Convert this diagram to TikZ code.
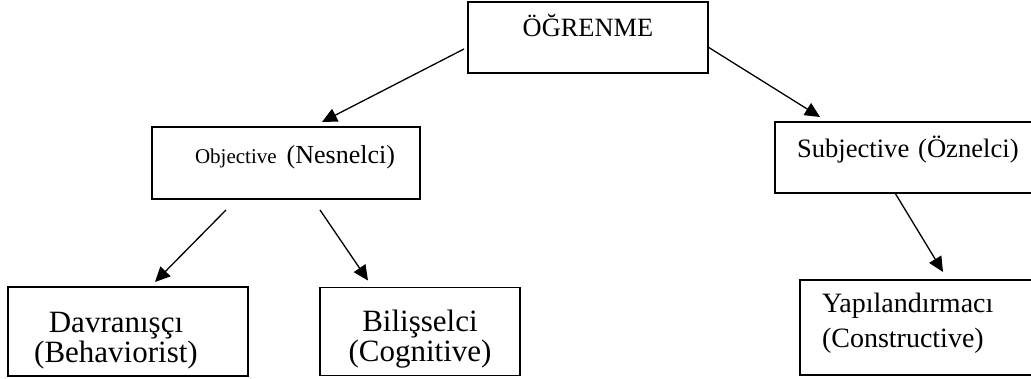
\documentclass[tikz,border=0pt]{standalone}
\usepackage{fontspec}
\setmainfont{Liberation Serif}
\usetikzlibrary{positioning, arrows.meta}

\begin{document}
\begin{tikzpicture}[x=0.5pt, y=-0.5pt, ->, >={Triangle[length=7.5pt,width=7pt]}, line width=0.65pt,
    box/.style={draw, rectangle, -, line width=0.9pt, inner sep=0pt, outer sep=0pt}]
      \useasboundingbox (0,0) rectangle (1031,379);

      % Top level
      \node[box, anchor=north west, minimum width=120pt, text height=17.5pt, text depth=18pt,
            font=\fontsize{13.2}{15}\selectfont] (ogrenme) at (468,2) {ÖĞRENME};

      % Second level
      \node[box, minimum width=134pt, text height=18pt, text depth=18pt,
            font=\fontsize{13}{15}\selectfont] (objective) [below left=27pt and 24pt of ogrenme]
            {\hspace*{9pt}{\fontsize{10.5}{12}\selectfont Objective}\hspace{5pt}(Nesnelci)};
      \node[box, inner xsep=11pt, text width=112pt, align=left, text height=18pt, text depth=17.5pt,
            font=\fontsize{13.3}{15}\selectfont] (subjective) [below right=24.5pt and 33.5pt of ogrenme]
            {Subjective (Öznelci)};

      % Third level
      \node[box, minimum width=120pt, align=center, text height=37.5pt, text depth=7pt,
            font=\fontsize{15.5}{15}\selectfont] (davranisci)
            [below=44pt of objective.south west, anchor=north west, xshift=-72pt]
            {Davranışçı\hspace*{12pt}\\(Behaviorist)\hspace*{12pt}};
      \node[box, minimum width=100pt, align=center, text height=37pt, text depth=7pt,
            font=\fontsize{15.5}{15}\selectfont] (bilisselci) [right=36pt of davranisci]
            {Bilişselci\\(Cognitive)};
      \node[box, inner xsep=11pt, text width=100pt, align=left, text height=16pt, text depth=31.5pt,
            font=\fontsize{14}{17.5}\selectfont] (yapilandirmaci)
            [below=43.5pt of subjective.south west, anchor=north west, xshift=12.5pt]
            {Yapılandırmacı\\(Constructive)};

      % Arrows
      \draw ([xshift=-2pt, yshift=-5.75pt]ogrenme.west) -- ([xshift=18pt, yshift=2.5pt]objective.north);
      \draw ([yshift=-4.75pt]ogrenme.east) -- ([xshift=22.5pt, yshift=2.5pt]subjective.north west);
      \draw ([xshift=-30pt, yshift=-5.5pt]objective.south) -- ([xshift=13.5pt, yshift=2.5pt]davranisci.north);
      \draw ([xshift=17pt, yshift=-5.5pt]objective.south) -- ([xshift=-26pt, yshift=3.5pt]bilisselci.north);
      \draw ([xshift=60pt]subjective.south west) -- ([xshift=71.5pt, yshift=4pt]yapilandirmaci.north west);
\end{tikzpicture}
\end{document}
